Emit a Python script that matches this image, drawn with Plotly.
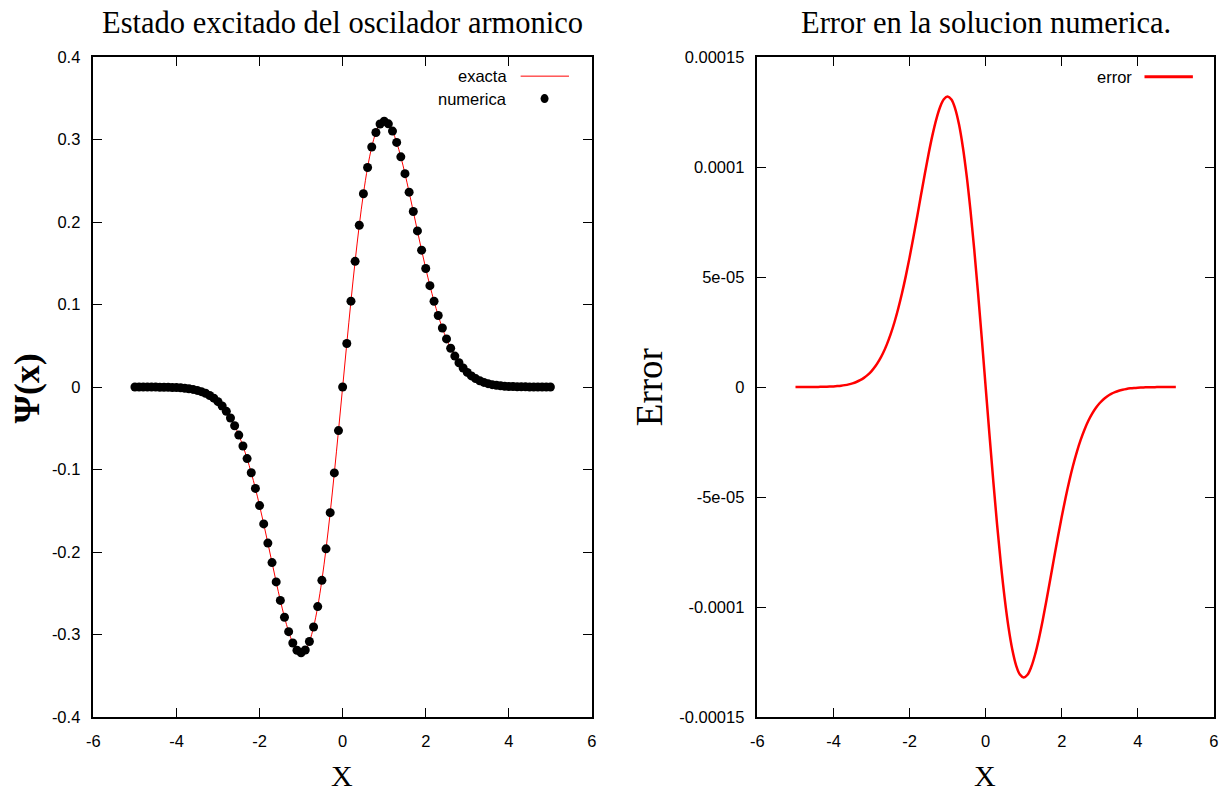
import plotly.graph_objects as go

# ---------------- data ----------------
x_values = [
    -5.0, -4.9, -4.8, -4.7, -4.6, -4.5, -4.4, -4.3, -4.2, -4.1,
    -4.0, -3.9, -3.8, -3.7, -3.6, -3.5, -3.4, -3.3, -3.2, -3.1,
    -3.0, -2.9, -2.8, -2.7, -2.6, -2.5, -2.4, -2.3, -2.2, -2.1,
    -2.0, -1.9, -1.8, -1.7, -1.6, -1.5, -1.4, -1.3, -1.2, -1.1,
    -1.0, -0.9, -0.8, -0.7, -0.6, -0.5, -0.4, -0.3, -0.2, -0.1,
    0.0,
    0.1, 0.2, 0.3, 0.4, 0.5, 0.6, 0.7, 0.8, 0.9, 1.0,
    1.1, 1.2, 1.3, 1.4, 1.5, 1.6, 1.7, 1.8, 1.9, 2.0,
    2.1, 2.2, 2.3, 2.4, 2.5, 2.6, 2.7, 2.8, 2.9, 3.0,
    3.1, 3.2, 3.3, 3.4, 3.5, 3.6, 3.7, 3.8, 3.9, 4.0,
    4.1, 4.2, 4.3, 4.4, 4.5, 4.6, 4.7, 4.8, 4.9, 5.0,
]

psi_values = [
    -0.0000, -0.0000, -0.0000, -0.0000, -0.0001, -0.0001, -0.0002, -0.0002, -0.0003, -0.0005,
    -0.0007, -0.0010, -0.0015, -0.0021, -0.0029, -0.0041, -0.0056, -0.0076, -0.0102, -0.0135,
    -0.0177, -0.0230, -0.0295, -0.0375, -0.0470, -0.0583, -0.0715, -0.0867, -0.1039, -0.1229,
    -0.1437, -0.1659, -0.1892, -0.2128, -0.2362, -0.2586, -0.2790, -0.2965, -0.3102, -0.3190,
    -0.3221, -0.3188, -0.3085, -0.2909, -0.2661, -0.2343, -0.1961, -0.1523, -0.1041, -0.0528,
    0.0,
    0.0528, 0.1041, 0.1523, 0.1961, 0.2343, 0.2661, 0.2909, 0.3085, 0.3188, 0.3221,
    0.3190, 0.3102, 0.2965, 0.2790, 0.2586, 0.2362, 0.2128, 0.1892, 0.1659, 0.1437,
    0.1229, 0.1039, 0.0867, 0.0715, 0.0583, 0.0470, 0.0375, 0.0295, 0.0230, 0.0177,
    0.0135, 0.0102, 0.0076, 0.0056, 0.0041, 0.0029, 0.0021, 0.0015, 0.0010, 0.0007,
    0.0005, 0.0003, 0.0002, 0.0002, 0.0001, 0.0001, 0.0000, 0.0000, 0.0000, 0.0000,
]

# error values in units of 1e-5
error_e5 = [
    0.000, 0.001, 0.001, 0.002, 0.002, 0.004, 0.006, 0.009, 0.014, 0.020,
    0.029, 0.042, 0.060, 0.086, 0.121, 0.167, 0.229, 0.310, 0.417, 0.553,
    0.726, 0.942, 1.210, 1.535, 1.927, 2.392, 2.933, 3.556, 4.259, 5.041,
    5.893, 6.803, 7.755, 8.725, 9.685, 10.602, 11.439, 12.158, 12.717, 13.077,
    13.205, 13.069, 12.647, 11.928, 10.911, 9.606, 8.039, 6.244, 4.268, 2.166,
    0.0,
    -2.166, -4.268, -6.244, -8.039, -9.606, -10.911, -11.928, -12.647, -13.069, -13.205,
    -13.077, -12.717, -12.158, -11.439, -10.602, -9.685, -8.725, -7.755, -6.803, -5.893,
    -5.041, -4.259, -3.556, -2.933, -2.392, -1.927, -1.535, -1.210, -0.942, -0.726,
    -0.553, -0.417, -0.310, -0.229, -0.167, -0.121, -0.086, -0.060, -0.042, -0.029,
    -0.020, -0.014, -0.009, -0.006, -0.004, -0.002, -0.002, -0.001, -0.001, 0.000,
]
error_values = [v * 1e-5 for v in error_e5]

x_ticks = [-6, -4, -2, 0, 2, 4, 6]
x_ticktext = ["-6", "-4", "-2", "0", "2", "4", "6"]
psi_ticks = [-0.4, -0.3, -0.2, -0.1, 0, 0.1, 0.2, 0.3, 0.4]
psi_ticktext = ["-0.4", "-0.3", "-0.2", "-0.1", "0", "0.1", "0.2", "0.3", "0.4"]
err_ticks = [-0.00015, -0.0001, -0.00005, 0, 0.00005, 0.0001, 0.00015]
err_ticktext = ["-0.00015", "-0.0001", "-5e-05", "0", "5e-05", "0.0001", "0.00015"]

# ---------------- figure ----------------
W, H = 1226, 794
OFF = 8                      # body margin of the page
KX = 1226 / (1226 + 2 * OFF)  # page-to-picture scaling seen in the photo
KY = 794 / (794 + 2 * OFF)
serif = "Liberation Serif, Times New Roman, serif"
sans = "Liberation Sans, Arial, sans-serif"

fig = go.Figure()
fig.add_trace(go.Scatter(x=x_values, y=psi_values, mode="lines", name="exacta",
                         line=dict(color="#ff0000", width=1, shape="spline"),
                         xaxis="x", yaxis="y", showlegend=False))
fig.add_trace(go.Scatter(x=x_values, y=psi_values, mode="markers", name="numerica",
                         marker=dict(color="black", size=9, line=dict(width=0)),
                         xaxis="x", yaxis="y", showlegend=False))
fig.add_trace(go.Scatter(x=x_values, y=error_values, mode="lines", name="error",
                         line=dict(color="#ff0000", width=2.5, shape="spline"),
                         xaxis="x2", yaxis="y2", showlegend=False))


def px_x(p):
    return (p / KX - OFF) / W


def px_y(p):
    return 1 - (p / KY - OFF) / H


ydom = [px_y(718), px_y(56)]
axis_common = dict(showline=True, linecolor="black", linewidth=1.5, mirror="allticks",
                   ticks="inside", ticklen=9, tickwidth=1, tickcolor="black",
                   showgrid=False, zeroline=False,
                   tickfont=dict(family=sans, size=16.5, color="black"),
                   ticklabelstandoff=8)

fig.update_layout(
    width=W, height=H,
    margin=dict(l=0, r=0, t=0, b=0),
    paper_bgcolor="white", plot_bgcolor="white",
    xaxis=dict(domain=[px_x(94), px_x(591)], range=[-6, 6], tickvals=x_ticks,
               ticktext=x_ticktext, anchor="y", **axis_common),
    yaxis=dict(domain=ydom, range=[-0.4, 0.4], tickvals=psi_ticks, ticktext=psi_ticktext,
               anchor="x", **axis_common),
    xaxis2=dict(domain=[px_x(756), px_x(1211)], range=[-6, 6], tickvals=x_ticks,
                ticktext=x_ticktext, anchor="y2", **axis_common),
    yaxis2=dict(domain=ydom, range=[-0.00015, 0.00015], tickvals=err_ticks,
                ticktext=err_ticktext, anchor="x2", **axis_common),
)


def text_ann(text, x, y, size, family, angle=0, **kw):
    d = dict(text=text, x=x, y=y, xref="paper", yref="paper", showarrow=False,
             xanchor="center", yanchor="middle", textangle=angle,
             font=dict(family=family, size=size, color="black"))
    d.update(kw)
    return d


ann = [
    text_ann("Estado excitado del oscilador armonico", px_x(342), px_y(22), 30.5, serif),
    text_ann("Error en la solucion numerica.", px_x(984), px_y(22), 30.5, serif),
    text_ann("X", px_x(342), px_y(777), 30, serif),
    text_ann("X", px_x(983), px_y(777), 30, serif),
    text_ann("<b>Ψ(x)</b>", px_x(28), px_y(388), 36, serif, angle=-90),
    text_ann("Error", px_x(648), px_y(387), 37, serif, angle=-90),
]
# manual legends (gnuplot style: text then sample)
ann.append(dict(text="exacta", x=0.833, y=0.971, xref="x domain", yref="y domain",
                xanchor="right", yanchor="middle", showarrow=False,
                font=dict(family=sans, size=16.5, color="black")))
ann.append(dict(text="numerica", x=0.833, y=0.937, xref="x domain", yref="y domain",
                xanchor="right", yanchor="middle", showarrow=False,
                font=dict(family=sans, size=16.5, color="black")))
ann.append(dict(text="error", x=0.826, y=0.970, xref="x2 domain", yref="y2 domain",
                xanchor="right", yanchor="middle", showarrow=False,
                font=dict(family=sans, size=16.5, color="black")))
fig.update_layout(annotations=ann)

shapes = [
    dict(type="line", xref="x domain", yref="y domain", x0=0.857, x1=0.954,
         y0=0.971, y1=0.971, line=dict(color="#ff0000", width=1)),
    dict(type="circle", xref="x domain", yref="y domain", xsizemode="pixel",
         ysizemode="pixel", xanchor=0.905, yanchor=0.937, x0=-4, x1=4, y0=-4.5, y1=4.5,
         fillcolor="black", line=dict(width=0)),
    dict(type="line", xref="x2 domain", yref="y2 domain", x0=0.848, x1=0.954,
         y0=0.970, y1=0.970, line=dict(color="#ff0000", width=3)),
]
fig.update_layout(shapes=shapes)

fig.write_html("out.html")
